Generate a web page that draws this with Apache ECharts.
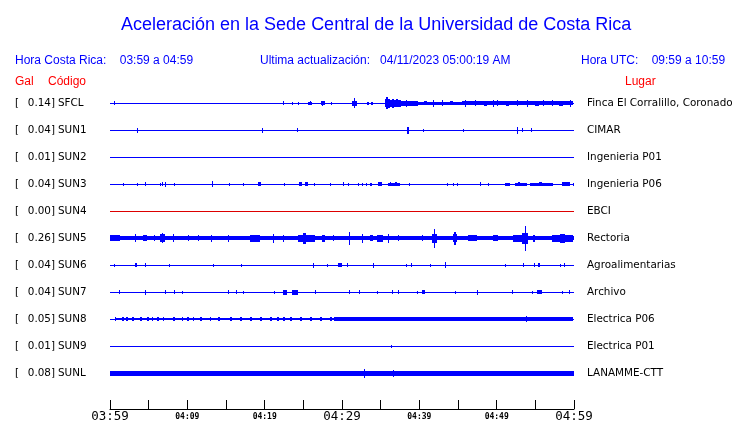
<!DOCTYPE html>
<html>
<head>
<meta charset="utf-8">
<script src="https://cdn.jsdelivr.net/npm/echarts@6/dist/echarts.min.js"></script>
<style>
html,body{margin:0;padding:0;background:#fff;}
#chart{width:740px;height:423px;}
</style>
</head>
<body>
<div id="chart"></div>
<script>
// ---------------- DATA ----------------
const stations = ['SFCL','SUN1','SUN2','SUN3','SUN4','SUN5','SUN6','SUN7','SUN8','SUN9','SUNL'];
const peaksGal = [0.14,0.04,0.01,0.04,0.00,0.26,0.04,0.04,0.05,0.01,0.08];
const places = ['Finca El Corralillo, Coronado','CIMAR','Ingenieria P01','Ingenieria P06','EBCI','Rectoria','Agroalimentarias','Archivo','Electrica P06','Electrica P01','LANAMME-CTT'];
const tickLabels = ['03:59','04:09','04:19','04:29','04:39','04:49','04:59'];
// background (noise) amplitude of each trace, relative units
const baseAmp = [0,0,0,0,0,1.6,0,0,0,0,1.8];
// bursts: [start minute, end minute, amplitude] (minutes after 03:59)
const sfclBursts = [[0.52,0.52,1.5],[22.37,22.5,1.5],[23.53,23.53,1],[24.31,24.31,1],[25.6,26.12,1],[25.8,25.9,1.5],[27.28,27.8,1.5],[27.4,27.6,2],[28.58,28.58,1],[31.29,31.94,2],[31.5,31.65,4.5],[33.23,33.5,1],[33.7,34.01,1],[35.56,35.75,3.5],[35.75,36.0,5.5],[36.0,36.21,4],[36.21,37.6,3],[36.5,36.7,4],[37.0,37.2,3.5],[37.6,39.83,2],[38.3,38.4,3],[39.83,45.5,1],[45.5,59.87,1.5],[40.6,41.0,1.5],[41.77,41.77,3],[42.93,42.93,2.5],[44.0,44.3,1.5],[45.9,45.9,3],[47.2,47.2,2.5],[48.3,48.8,2],[49.5,49.5,3],[50.0,50.0,2.5],[51.2,51.6,2],[52.6,52.6,2.5],[53.9,53.9,3],[55.0,55.5,2],[56.0,56.0,2.5],[57.2,57.2,2.5],[58.0,58.6,2],[59.5,59.5,3]];
const sun1Bursts = [[3.49,3.49,2],[19.66,19.79,2],[24.18,24.18,1.5],[38.4,38.66,3],[40.47,40.47,1],[45.65,45.65,1],[52.63,52.76,3],[53.28,53.28,1.5],[54.44,54.44,1.5]];
const sun2Bursts = [];
const sun3Bursts = [[1.68,1.68,1],[3.49,3.49,1],[4.53,4.53,1.5],[6.47,6.47,1],[6.72,6.72,1.5],[7.11,7.11,2],[8.28,8.28,1],[13.19,13.19,2.5],[15.39,15.39,1],[17.2,17.2,1],[19.14,19.52,1.5],[22.5,22.5,1],[24.44,24.83,1.5],[25.22,25.6,1.5],[26.38,26.38,1],[28.45,28.45,1],[30.13,30.13,1.5],[30.78,30.78,1],[32.07,32.07,1],[32.59,32.59,1],[33.1,33.1,1],[33.62,33.88,1],[34.66,35.17,1.5],[35.95,37.5,1],[36.2,36.4,1.5],[36.9,37.1,1.5],[38.66,38.66,1],[43.58,43.58,1],[44.35,44.35,1],[44.87,44.87,1],[47.85,47.85,1.5],[48.88,48.88,1],[51.08,51.72,1],[52.37,53.92,1],[52.8,53.0,1.5],[54.31,57.29,1],[55.5,55.8,1.5],[58.45,59.48,1.5],[59.87,59.87,1]];
const sun4Bursts = [];
const sun5Bursts = [[0,1.29,2.5],[3.23,3.23,3.5],[4.27,4.78,2.5],[5.69,5.69,2.5],[6.47,7.11,3.5],[6.7,6.8,4.5],[8.15,8.15,3.5],[10.09,10.09,2.5],[11.38,11.38,2.5],[13.06,13.06,3],[15.26,15.26,3],[18.1,19.4,2.8],[21.08,21.08,4],[22.37,22.37,3],[24.31,26.51,3],[24.9,25.3,5],[27.41,27.8,3],[28.84,28.84,2.5],[30.91,31.03,6],[32.59,32.59,4],[33.62,34.01,2.5],[34.53,35.3,3],[35.95,35.95,4],[37.24,37.24,2.5],[40.34,40.34,2.5],[41.7,42.3,4],[41.9,41.9,9],[44.35,44.87,3.5],[44.5,44.7,6],[46.29,47.46,2.5],[49.5,50.2,2.5],[52.11,53.4,3],[53.3,54.0,5],[53.66,53.66,12],[54.7,54.9,3],[57.16,59.87,3],[58.2,58.8,4]];
const sun6Bursts = [[0.52,0.52,1],[3.23,3.49,1.5],[4.53,4.53,1.5],[7.63,7.63,1],[13.32,13.32,1],[16.94,16.94,1],[26.25,26.38,2],[28.06,28.06,1],[29.48,30.0,1.5],[30.65,30.65,1.5],[34.01,34.01,2],[38.28,38.28,1],[38.92,38.92,1.5],[41.38,41.38,1],[43.32,43.45,2.5],[51.08,51.08,1],[53.41,53.54,1.5],[54.83,54.83,1.5],[55.35,55.6,1.5],[58.19,58.19,1],[58.71,58.71,1.5]];
const sun7Bursts = [[1.16,1.16,1.5],[4.53,4.53,2],[7.11,7.11,1.5],[8.28,8.28,1.5],[9.31,9.31,1],[15.26,15.26,1.5],[16.29,16.29,1.5],[17.2,17.2,1],[21.21,21.21,1],[22.37,22.89,2],[23.53,24.31,2],[26.51,26.51,1.5],[30.91,30.91,1.5],[32.2,32.2,1.5],[34.53,34.53,1],[36.47,36.47,1.5],[37.24,37.24,1.5],[39.7,39.7,1],[40.34,40.73,1.5],[44.61,44.61,1],[47.46,47.6,2],[51.98,51.98,1.5],[54.57,54.57,1],[55.22,55.86,1.5],[58.45,58.45,1],[59.35,59.35,1.5]];
const sun8Bursts = [[0.6,29.0,0.5],[0.65,0.65,1.5],[1.55,1.8,1.5],[2.07,2.3,1.5],[2.84,3.1,1.5],[3.88,4.1,1.5],[4.78,5.0,1.5],[5.43,5.6,1.5],[6.08,6.3,1.5],[6.85,7.0,1.5],[8.15,8.4,1.5],[9.31,9.5,1.5],[9.96,10.2,1.5],[10.73,10.9,1.5],[11.64,11.9,1.5],[12.93,13.1,1.5],[13.97,14.2,1.5],[15.52,15.8,1.5],[16.81,17.1,1.5],[18.1,18.4,1.5],[19.4,19.6,1.5],[20.69,20.9,1.5],[21.6,21.8,1.5],[22.37,22.6,1.5],[23.28,23.5,1.5],[24.57,24.8,1.5],[25.86,26.1,1.5],[27.15,27.4,1.5],[28.45,28.7,1.5],[29.0,59.87,1.5],[53.79,53.79,2.5]];
const sun9Bursts = [[36.34,36.34,1]];
const sunlBursts = [[32.84,32.84,4],[36.6,36.6,3]];
const bursts = [sfclBursts,sun1Bursts,sun2Bursts,sun3Bursts,sun4Bursts,sun5Bursts,sun6Bursts,sun7Bursts,sun8Bursts,sun9Bursts,sunlBursts];

// ---------------- CHART ----------------
const BLUE = '#0000ff', RED = '#ff0000';
const traceColors = stations.map(s => s === 'SUN4' ? '#dd0000' : BLUE);
const SPACING = 27, FIRST = 14;
const chart = echarts.init(document.getElementById('chart'), null, {renderer:'canvas'});

const series = stations.map((st, i) => {
  const off = FIRST + SPACING * i;
  const data = [[0, 60, baseAmp[i]]].concat(bursts[i]);
  return {
    type: 'custom', name: st, silent: true, animation: false,
    data: data,
    renderItem: function (params, api) {
      const t0 = api.value(0), t1 = api.value(1), a = api.value(2);
      const p0 = api.coord([t0, off - a]);
      const p1 = api.coord([t1, off + a]);
      const c = api.coord([t0, off]);
      const x0 = Math.round(p0[0]);
      const w = Math.max(1, Math.round(p1[0]) - x0);
      const h = Math.max(1, Math.round(Math.abs(p1[1] - p0[1])) + 1);
      const y = Math.round(c[1] - h / 2);
      return {type: 'rect', shape: {x: x0, y: y, width: w, height: h}, style: {fill: traceColors[i]}};
    }
  };
});

const option = {
  animation: false,
  backgroundColor: '#fff',
  title: {
    text: 'Aceleración en la Sede Central de la Universidad de Costa Rica',
    left: 116, top: 11,
    textStyle: {fontFamily: 'Liberation Sans', fontSize: 18, fontWeight: 'normal', color: BLUE}
  },
  grid: {left: 110, top: 89, width: 464, height: 320, outerBoundsMode: 'none', containLabel: false},
  xAxis: {
    type: 'value', min: 0, max: 60, interval: 5, position: 'bottom',
    axisLine: {show: true, onZero: false, lineStyle: {color: '#000', width: 1}},
    axisTick: {show: true, inside: true, length: 9, lineStyle: {color: '#000', width: 1}},
    splitLine: {show: false},
    axisLabel: {
      margin: 1, showMinLabel: true, showMaxLabel: true,
      formatter: function (v) {
        if (v % 10 !== 0) return '';
        const s = tickLabels[v / 10];
        return v % 30 === 0 ? '{b|' + s + '}' : '{s|' + s + '}';
      },
      rich: {
        b: {fontFamily: 'DejaVu Sans Mono', fontSize: 12.5, color: '#000', lineHeight: 14},
        s: {fontFamily: 'DejaVu Sans Mono', fontSize: 8, fontWeight: 'bold', color: '#000', lineHeight: 14}
      }
    }
  },
  yAxis: {type: 'value', min: 0, max: 320, inverse: true, show: false},
  series: series
};
chart.setOption(option);

// texts placed through the axis scale
const hdr = {fontFamily: 'Liberation Sans', fontSize: 12, fill: BLUE};
const lab = {fontFamily: 'DejaVu Sans', fontSize: 10.4, fill: '#000'};
const g = [
  {type: 'text', left: 15, top: 55, style: Object.assign({text: 'Hora Costa Rica:    03:59 a 04:59'}, hdr)},
  {type: 'text', left: 260, top: 55, style: Object.assign({text: 'Ultima actualización:   04/11/2023 05:00:19 AM'}, hdr)},
  {type: 'text', left: 581, top: 55, style: Object.assign({text: 'Hora UTC:    09:59 a 10:59'}, hdr)},
  {type: 'text', left: 15, top: 76, style: Object.assign({}, hdr, {text: 'Gal', fill: RED})},
  {type: 'text', left: 48, top: 76, style: Object.assign({}, hdr, {text: 'Código', fill: RED})},
  {type: 'text', left: 625, top: 76, style: Object.assign({}, hdr, {text: 'Lugar', fill: RED})}
];
stations.forEach((st, i) => {
  const y = chart.convertToPixel({gridIndex: 0}, [0, FIRST + SPACING * i])[1] + 0.5;
  g.push({type: 'text', x: 15, y: y, style: Object.assign({text: '[', verticalAlign: 'middle'}, lab)});
  g.push({type: 'text', x: 55, y: y, style: Object.assign({text: peaksGal[i].toFixed(2) + ']', textAlign: 'right', verticalAlign: 'middle'}, lab)});
  g.push({type: 'text', x: 58, y: y, style: Object.assign({text: st, verticalAlign: 'middle'}, lab)});
  g.push({type: 'text', x: 587, y: y, style: Object.assign({text: places[i], verticalAlign: 'middle'}, lab)});
});
chart.setOption({graphic: g});
</script>
</body>
</html>
